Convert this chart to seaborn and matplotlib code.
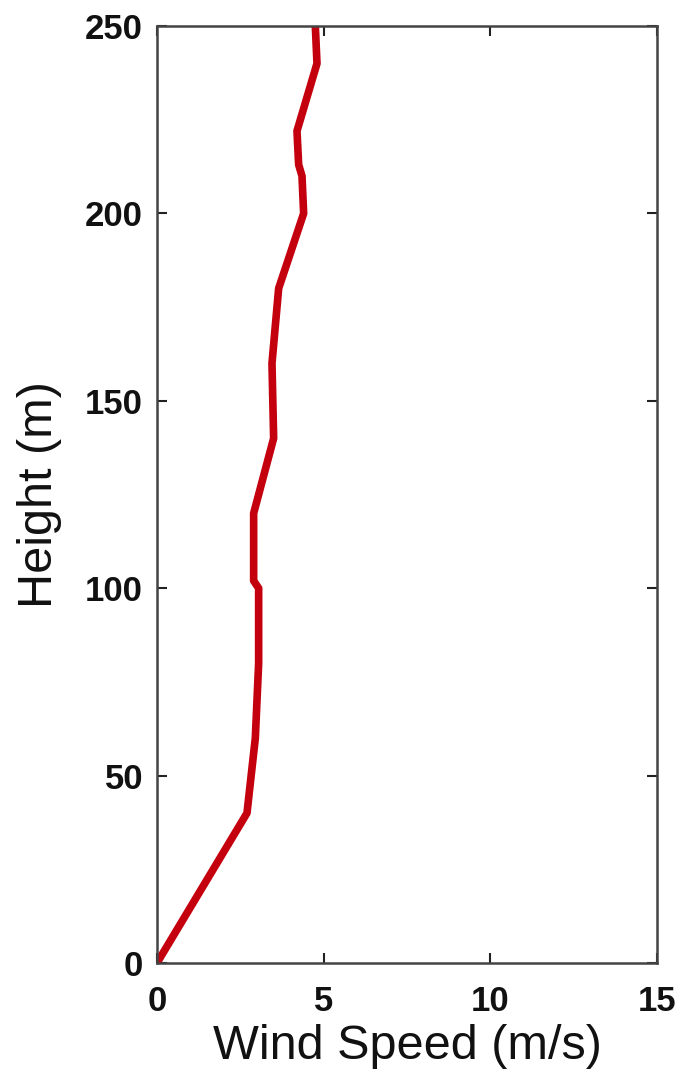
import matplotlib
matplotlib.use("Agg")
import matplotlib.pyplot as plt
import seaborn as sns
import pandas as pd

# Data
heights = [0, 20, 40, 60, 80, 100, 102, 120, 140, 160, 180, 200, 210, 213, 222, 240, 250]
wind_speed = [0.0, 1.35, 2.7, 2.95, 3.05, 3.05, 2.9, 2.9, 3.5, 3.45, 3.65, 4.4, 4.35, 4.25, 4.2, 4.8, 4.75]

x_ticks = [0, 5, 10, 15]
y_ticks = [0, 50, 100, 150, 200, 250]

sns.set_theme(style="white")
plt.rcParams['font.family'] = ['Liberation Sans', 'DejaVu Sans']

df = pd.DataFrame({"speed": wind_speed, "height": heights})

fig = plt.figure(figsize=(6.81, 10.76), dpi=100)
ax = fig.add_axes([0.2305, 0.105, 0.7343, 0.8708])

sns.lineplot(data=df, x="speed", y="height", sort=False, estimator=None,
             color="#c4000e", linewidth=5.5, ax=ax)

ax.set_xlim(0, 15)
ax.set_ylim(0, 250)
ax.set_xticks(x_ticks)
ax.set_yticks(y_ticks)
ax.set_xticklabels([str(t) for t in x_ticks], fontsize=25, fontweight="bold", color="#111111")
ax.set_yticklabels([str(t) for t in y_ticks], fontsize=25, fontweight="bold", color="#111111")
ax.tick_params(axis="both", direction="in", length=7, width=1.5, color="#222222",
               top=True, right=True, bottom=True, left=True)
ax.tick_params(axis="y", pad=10)
ax.tick_params(axis="x", pad=16)
for s in ax.spines.values():
    s.set_color("#444444")
    s.set_linewidth(1.8)
ax.set_xlabel("Wind Speed (m/s)", fontsize=35, labelpad=4, color="#111111")
ax.set_ylabel("Height (m)", fontsize=35, labelpad=17, color="#111111")
ax.set_facecolor("white")
fig.patch.set_facecolor("white")

fig.savefig("out.png", dpi=100)
